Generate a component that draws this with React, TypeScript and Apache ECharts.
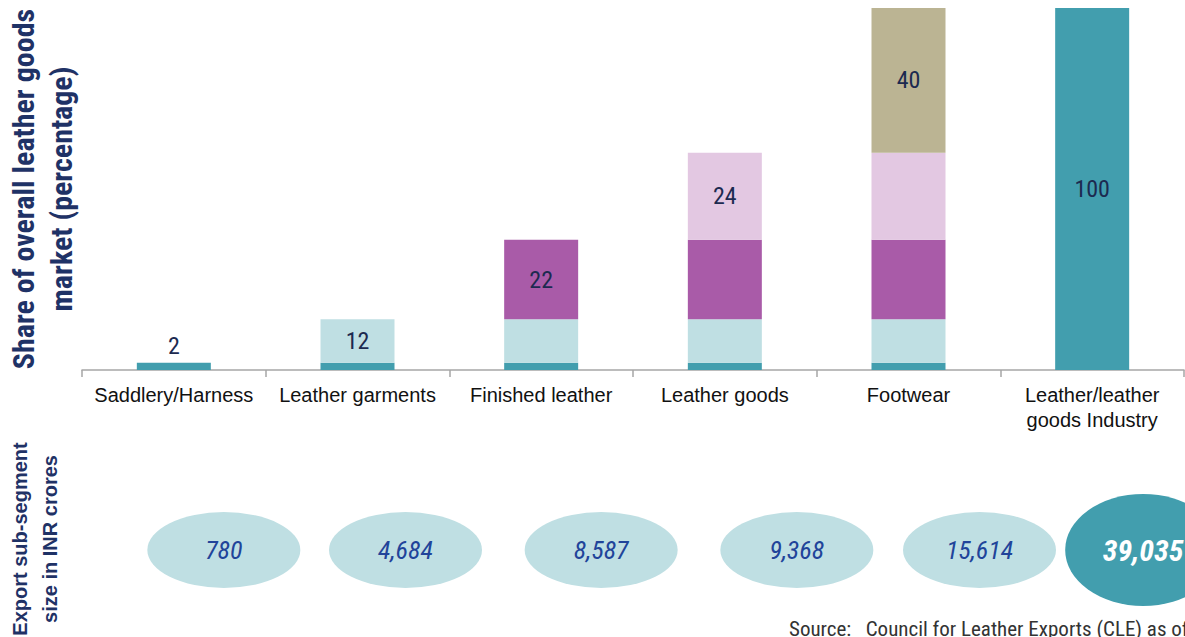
import React, { useEffect, useRef } from "react";
import * as echarts from "echarts";

const categories = [
  "Saddlery/Harness",
  "Leather garments",
  "Finished leather",
  "Leather goods",
  "Footwear",
  "Leather/leather\ngoods Industry",
];
const segmentNames = ["Saddlery/Harness", "Leather garments", "Finished leather", "Leather goods", "Footwear"];
const segmentShares = [2, 12, 22, 24, 40];
const industryShare = 100;
const exportSizes = [780, 4684, 8587, 9368, 15614, 39035];

const segmentColors = ["#429eae", "#bfdfe3", "#a95ba8", "#e3c8e2", "#bbb493"];
const industryColor = "#429eae";
const ellipseOffsets = [50, 48, 60, 72, 71, 51];

const NARROW = '"Liberation Sans Narrow", "Arial Narrow", "Roboto Condensed", Roboto, sans-serif';
const ARIAL = '"Liberation Sans", Arial, sans-serif';
const ELLIPSE = "path://M0,50A50,50,0,1,1,100,50A50,50,0,1,1,0,50Z";

export default function App() {
  const ref = useRef<HTMLDivElement>(null);
  useEffect(() => {
    if (!ref.current) return;
    const chart = echarts.init(ref.current, null, { renderer: "svg" });
    const n = segmentShares.length;
    const labelStyle = { fontFamily: NARROW, fontSize: 24, color: "#1c2a50" };

    const segSeries = segmentShares.map((share, i) => ({
      type: "bar",
      name: segmentNames[i],
      stack: "share",
      xAxisIndex: 0,
      yAxisIndex: 0,
      barWidth: 74,
      itemStyle: { color: segmentColors[i] },
      data: categories.map((_, j) =>
        j >= i && j < n
          ? {
              value: share,
              label: {
                show: j === i,
                position: i === 0 ? "top" : "inside",
                ...labelStyle,
              },
            }
          : "-"
      ),
    }));

    const industrySeries = {
      type: "bar",
      name: "Leather/leather goods Industry",
      stack: "share",
      xAxisIndex: 0,
      yAxisIndex: 0,
      barWidth: 74,
      itemStyle: { color: industryColor },
      data: categories.map((_, j) =>
        j === n ? { value: industryShare, label: { show: true, position: "inside", ...labelStyle } } : "-"
      ),
    };

    const last = exportSizes.length - 1;
    const ellipseSeries = {
      type: "scatter",
      xAxisIndex: 1,
      yAxisIndex: 1,
      symbol: ELLIPSE,
      data: exportSizes.map((v, i) => ({
        value: [i, 0],
        symbolSize: i === last ? [156, 112] : [153, 76],
        symbolOffset: [ellipseOffsets[i], 0],
        itemStyle: { color: i === last ? industryColor : "#bfdfe3", opacity: 1 },
        label: {
          show: true,
          position: "inside",
          formatter: () => v.toLocaleString("en-US"),
          fontFamily: NARROW,
          fontStyle: "italic",
          fontWeight: i === last ? "bold" : "normal",
          fontSize: i === last ? 30 : 26,
          color: i === last ? "#ffffff" : "#21449a",
        },
      })),
    };

    chart.setOption({
      animation: false,
      grid: [
        { left: 82, width: 1102, top: 8, height: 362, outerBoundsMode: "none", containLabel: false },
        { left: 82, width: 1102, top: 494, height: 112, outerBoundsMode: "none", containLabel: false },
      ],
      xAxis: [
        {
          type: "category",
          gridIndex: 0,
          data: categories,
          axisLine: { lineStyle: { color: "#a6a6a6", width: 1.5 } },
          axisTick: { show: true, length: 7, lineStyle: { color: "#a6a6a6", width: 1.5 } },
          axisLabel: { fontFamily: ARIAL, fontSize: 20, color: "#111", margin: 12, lineHeight: 25, interval: 0 },
        },
        { type: "category", gridIndex: 1, data: categories, show: false },
      ],
      yAxis: [
        {
          type: "value",
          gridIndex: 0,
          min: 0,
          max: 100,
          axisLine: { show: false },
          axisTick: { show: false },
          axisLabel: { show: false },
          splitLine: { show: false },
          name: "Share of overall leather goods\nmarket (percentage)",
          nameLocation: "middle",
          nameRotate: 90,
          nameGap: 2,
          nameTextStyle: { fontFamily: NARROW, fontWeight: "bold", fontSize: 30, color: "#1f3266", lineHeight: 38 },
        },
        {
          type: "category",
          gridIndex: 1,
          data: ["Export"],
          axisLine: { show: false },
          axisTick: { show: false },
          axisLabel: { show: false },
        },
      ],
      graphic: [
        {
          type: "text",
          x: 35,
          y: 539,
          rotation: Math.PI / 2,
          style: {
            text: "Export sub-segment\nsize in INR crores",
            fontFamily: ARIAL,
            fontWeight: "bold",
            fontSize: 20,
            lineHeight: 30,
            fill: "#1f3266",
            align: "center",
            verticalAlign: "middle",
          },
        },
        {
          type: "text",
          left: 789,
          top: 618,
          style: {
            text: "Source:   Council for Leather Exports (CLE) as of",
            fontFamily: NARROW,
            fontSize: 21,
            fill: "#333",
          },
        },
      ],
      series: [...segSeries, industrySeries, ellipseSeries],
    });
    return () => chart.dispose();
  }, []);
  return <div ref={ref} style={{ position: "fixed", left: 0, top: 0, width: 1185, height: 637, background: "#fff" }} />;
}
